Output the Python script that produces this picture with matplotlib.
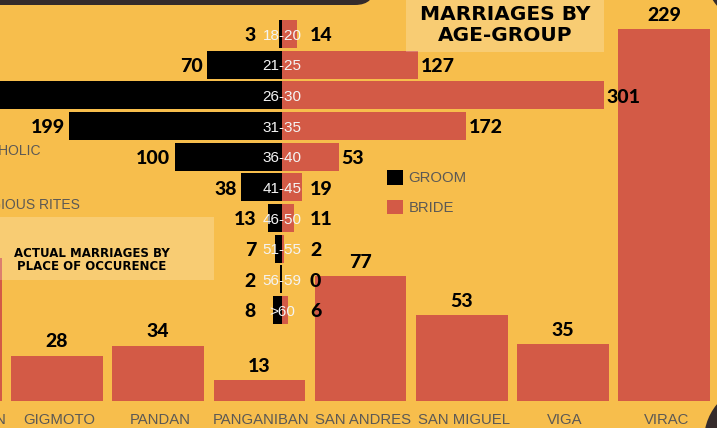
import matplotlib.pyplot as plt
from matplotlib.patches import Rectangle, FancyBboxPatch, Circle, Patch

YEL = "#F7BE4C"
RED = "#D35A46"
DARK = "#352B2B"
GRAY = "#5C5955"

# marriages by place of occurence (first one is cut off at the left edge)
places = ["CARAMORAN", "GIGMOTO", "PANDAN", "PANGANIBAN", "SAN ANDRES",
          "SAN MIGUEL", "VIGA", "VIRAC"]
place_vals = [88, 28, 34, 13, 77, 53, 35, 229]

# marriages by age group
ages = ["18-20", "21-25", "26-30", "31-35", "36-40", "41-45", "46-50",
        "51-55", "56-59", ">60"]
groom = [3, 70, 265, 199, 100, 38, 13, 7, 2, 8]
bride = [14, 127, 301, 172, 53, 19, 11, 2, 0, 6]

W, H = 717, 428
NUM = dict(family="Lato", fontweight="black", fontsize=14, color="black")
THIN = dict(family="Liberation Sans", fontsize=10.7, color=GRAY)

fig = plt.figure(figsize=(W / 100, H / 100), dpi=100, facecolor=YEL)

# ---- bottom bar chart
ax = fig.add_axes([0, 27 / H, 1, 401 / H])
ax.set_facecolor("none")
x = list(range(len(places)))
ax.bar(x, place_vals, width=0.907, color=RED)
ax.set_xlim((0 - 57) / 101.2 + 1, (W - 57) / 101.2 + 1)
ax.set_ylim(0, 401 / 1.624)
ax.axis("off")
for i, (name, v) in enumerate(zip(places, place_vals)):
    ax.annotate(str(v), (i, v), xytext=(0, 6), textcoords="offset points",
                ha="center", va="baseline", annotation_clip=False, **NUM)
    ax.annotate(name, (i, 0), xytext=(1.5, -16.5), textcoords="offset points",
                ha="center", va="baseline", annotation_clip=False, **THIN)

# ---- butterfly chart
ax2 = fig.add_axes([0, 0, 1, 1], zorder=2)
ax2.set_facecolor("none")
k = list(range(len(ages)))
ax2.barh(k, [-g for g in groom], height=0.913, color="black")
ax2.barh(k, bride, height=0.913, color=RED)
ax2.set_xlim(-282 / 1.07, (W - 282) / 1.07)
ax2.set_ylim((H - 34) / 30.67, -34 / 30.67)
ax2.axis("off")
for i in k:
    ax2.annotate(ages[i], (0, i), xytext=(0, -4), textcoords="offset points",
                 ha="center", va="baseline", family="Liberation Sans",
                 fontsize=11, color="#F4F4F4")
    ax2.annotate(str(groom[i]), (min(-groom[i], -20), i), xytext=(-3.3, -5.2),
                 textcoords="offset points", ha="right", va="baseline",
                 annotation_clip=False, **NUM)
    ax2.annotate(str(bride[i]), (max(bride[i], 23.5), i), xytext=(2, -5.2),
                 textcoords="offset points", ha="left", va="baseline",
                 annotation_clip=False, **NUM)

# ---- decorations in pixel coordinates
ax3 = fig.add_axes([0, 0, 1, 1], zorder=3)
ax3.set_facecolor("none")
ax3.set_xlim(0, W)
ax3.set_ylim(H, 0)
ax3.axis("off")

ax3.add_patch(Rectangle((406, -5), 198, 57, fc="white", alpha=0.22, lw=0))
ax3.add_patch(Rectangle((-5, 217), 219, 63, fc="white", alpha=0.22, lw=0))
ax3.add_patch(FancyBboxPatch((-40, -40), 415, 45, fc=DARK, lw=0,
                             boxstyle="round,pad=0,rounding_size=20"))
ax3.add_patch(Circle((760, -30), 56, fc=DARK, lw=0))
ax3.add_patch(Circle((760, 440), 56, fc=DARK, lw=0))

TITLE = dict(family="DejaVu Sans", fontweight="bold", color="black", ha="center",
             va="baseline")
ax3.text(505, 20, "MARRIAGES BY", fontsize=14.5, **TITLE)
ax3.text(505, 41, "AGE-GROUP", fontsize=14.5, **TITLE)
ax3.text(92, 257, "ACTUAL MARRIAGES BY", fontsize=8.5, **TITLE)
ax3.text(92, 270, "PLACE OF OCCURENCE", fontsize=8.5, **TITLE)

LEFT = dict(THIN, fontsize=10)
ax3.text(41, 155.4, "ROMAN CATHOLIC", ha="right", va="baseline", **LEFT)
ax3.text(80, 208.5, "OTHER RELIGIOUS RITES", ha="right", va="baseline", **LEFT)

fig.legend(handles=[Patch(fc="black"), Patch(fc=RED)], labels=["GROOM", "BRIDE"],
           loc="upper left", bbox_to_anchor=(387 / W, 1 - 170 / H), frameon=False,
           prop=dict(family="Liberation Sans", size=10.7), labelcolor=GRAY,
           handlelength=1.1, handleheight=1.15, handletextpad=0.35,
           labelspacing=0.95, borderpad=0, borderaxespad=0)

fig.savefig("out.png", dpi=100, facecolor=YEL)
